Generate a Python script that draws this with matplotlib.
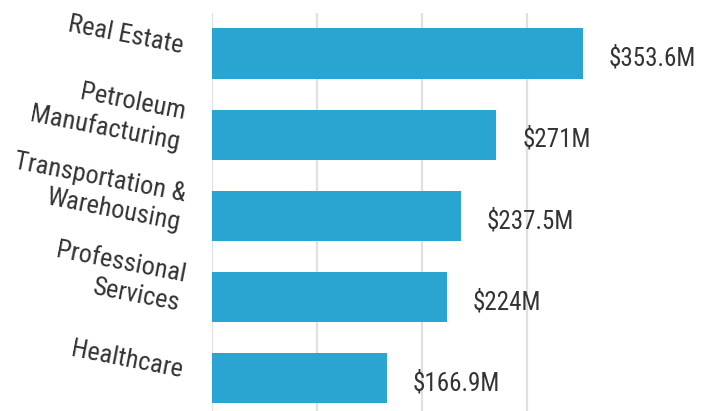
import matplotlib.pyplot as plt
from matplotlib import font_manager
import matplotlib.transforms as mtransforms

categories = ["Real Estate", "Petroleum\nManufacturing", "Transportation &\nWarehousing",
              "Professional\nServices", "Healthcare"]
values = [353.6, 271, 237.5, 224, 166.9]
value_labels = ["$353.6M", "$271M", "$237.5M", "$224M", "$166.9M"]

names = {f.name for f in font_manager.fontManager.ttflist}
narrow = "Roboto Condensed" if "Roboto Condensed" in names else "Liberation Sans Narrow"

fig = plt.figure(figsize=(7.07, 4.11), dpi=100)
ax = fig.add_axes([212 / 707, -7.5 / 411, 493 / 707, 405.5 / 411])

y = list(range(len(categories)))
ax.barh(y, values, height=0.62, color="#2aa5d1", zorder=2)
ax.set_ylim(len(categories) - 0.5, -0.5)
ax.set_xlim(0, 470)

ax.set_xticks([0, 100, 200, 300])
ax.grid(axis="x", color="#e0e0e0", linewidth=1.6, zorder=0)
ax.tick_params(axis="both", length=0, labelbottom=False)
for s in ax.spines.values():
    s.set_visible(False)

ax.set_yticks(y)
ax.set_yticklabels(categories, fontsize=19, family=narrow, color="#333333",
                   rotation=-11, ha="right", va="center", rotation_mode="anchor",
                   multialignment="right", linespacing=1.3)
ax.tick_params(axis="y", pad=21)
shift = mtransforms.ScaledTranslation(0, 7 / 100, fig.dpi_scale_trans)
for lab in ax.get_yticklabels():
    lab.set_transform(lab.get_transform() + shift)

for yi, v, t in zip(y, values, value_labels):
    ax.annotate(t, (v, yi), xytext=(26, -5), textcoords="offset pixels",
                ha="left", va="center", fontsize=18, family=narrow, color="#333333")

fig.savefig("out.png", dpi=100)
